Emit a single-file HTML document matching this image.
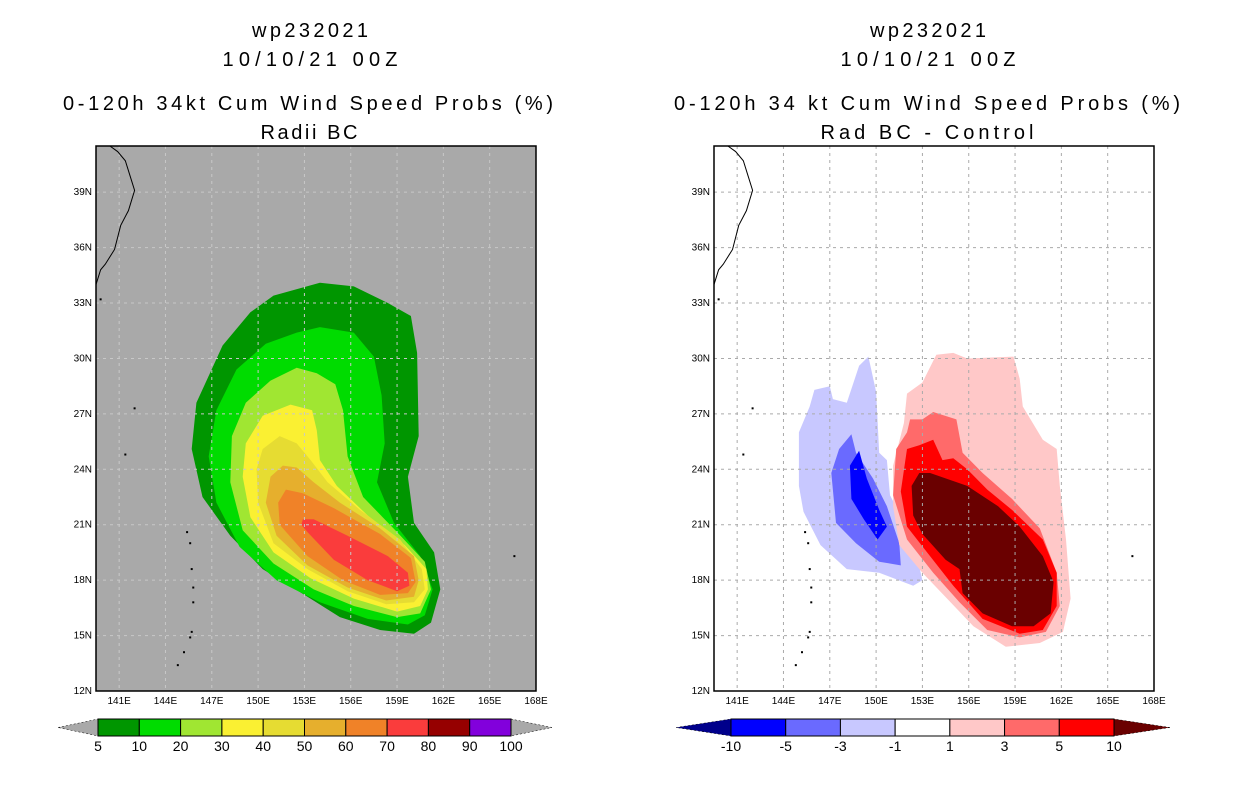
<!DOCTYPE html>
<html><head><meta charset="utf-8"><style>
body{margin:0;background:#fff;width:1236px;height:800px;overflow:hidden}
svg{display:block}
text{font-family:"Liberation Sans",sans-serif}
</style></head><body>
<svg id="s" width="1236" height="800" xmlns="http://www.w3.org/2000/svg">
<g font-size="20" text-anchor="middle" fill="#000" lengthAdjust="spacing">
<text x="310" y="37" textLength="116">wp232021</text><text x="310" y="66" textLength="175">10/10/21 00Z</text>
<text x="308" y="110" textLength="490">0-120h 34kt Cum Wind Speed Probs (%)</text><text x="309" y="139" textLength="97">Radii BC</text></g>
<g font-size="20" text-anchor="middle" fill="#000">
<text x="928" y="37" textLength="116">wp232021</text><text x="928" y="66" textLength="175">10/10/21 00Z</text>
<text x="927" y="110" textLength="506">0-120h 34 kt Cum Wind Speed Probs (%)</text><text x="927" y="139" textLength="213">Rad BC - Control</text></g>
</svg>
<script>
const NS="http://www.w3.org/2000/svg";
const svg=document.getElementById('s');
const lonTicks=[141,144,147,150,153,156,159,162,165,168];
const latTicks=[12,15,18,21,24,27,30,33,36,39];
const leftLevels=["5","10","20","30","40","50","60","70","80","90","100"];
const leftColors=["#009600","#00dc00","#a0e632","#faf032","#e6dc32","#e6af2d","#f08228","#fa3c3c","#960000","#8200dc"];
const rightLevels=["-10","-5","-3","-1","1","3","5","10"];
const rightColors=["#0000ff","#6a6aff","#c8c8ff","#ffffff","#ffc8c8","#ff6a6a","#ff0000"];
const probContours=[
 {c:"#009600",p:[[154.0,34.1],[156.2,33.9],[158.4,33.0],[159.9,32.3],[160.3,30.3],[160.4,25.8],[159.7,23.6],[160.1,21.1],[161.4,19.5],[161.8,17.5],[161.2,15.7],[160.1,15.1],[157.9,15.3],[155.3,16.0],[153.2,17.1],[150.3,18.6],[148.2,20.4],[146.4,22.5],[145.7,25.1],[146.0,27.6],[147.7,30.7],[149.5,32.5],[151.0,33.4]]},
 {c:"#00dc00",p:[[154.0,31.7],[156.2,31.4],[157.5,30.1],[158.0,28.0],[158.2,25.4],[157.7,23.3],[158.8,21.1],[160.5,19.3],[161.3,17.5],[160.8,16.1],[159.7,15.6],[157.1,15.9],[154.0,16.8],[151.2,18.0],[148.8,19.8],[147.3,22.2],[146.8,24.7],[147.3,27.2],[148.6,29.4],[150.5,30.8],[152.5,31.4]]},
 {c:"#a0e632",p:[[152.5,29.5],[153.8,29.2],[155.0,28.6],[155.5,27.2],[155.8,24.7],[156.8,22.5],[159.0,20.6],[160.8,19.0],[161.2,17.5],[160.5,16.2],[159.0,16.0],[156.2,16.6],[153.6,17.5],[151.0,18.9],[149.0,20.7],[148.2,23.3],[148.3,25.8],[149.2,27.6],[150.8,28.8]]},
 {c:"#faf032",p:[[152.1,27.5],[153.5,27.2],[153.8,26.1],[154.0,24.5],[155.1,23.1],[157.1,21.5],[159.5,19.9],[160.9,18.6],[161.0,17.5],[160.5,16.6],[159.0,16.3],[156.2,17.0],[153.4,18.1],[151.0,19.5],[149.5,21.4],[149.0,23.6],[149.2,25.4],[150.3,26.9]]},
 {c:"#e6dc32",p:[[151.4,25.8],[152.5,25.4],[153.4,24.5],[154.5,23.3],[156.6,21.8],[159.2,20.2],[160.6,18.6],[160.8,17.5],[160.1,16.8],[158.3,16.7],[155.8,17.4],[153.2,18.6],[151.0,20.0],[150.0,22.2],[149.9,24.0],[150.3,25.1]]},
 {c:"#e6af2d",p:[[151.6,24.2],[152.5,24.1],[153.6,23.3],[155.3,22.2],[157.9,20.8],[160.1,19.3],[160.4,18.0],[160.1,17.1],[158.3,16.9],[155.8,17.6],[153.2,18.8],[151.2,20.4],[150.5,22.2],[150.8,23.6]]},
 {c:"#f08228",p:[[151.8,22.9],[152.9,22.7],[154.9,21.9],[157.9,20.5],[159.9,19.2],[160.2,17.9],[159.7,17.3],[157.9,17.2],[155.5,18.0],[153.2,19.3],[151.4,21.0],[151.3,22.2]]},
 {c:"#fa3c3c",p:[[152.9,21.3],[153.6,21.3],[155.8,20.4],[158.4,19.3],[159.7,18.4],[159.8,17.7],[159.0,17.4],[157.1,18.0],[154.9,19.1],[153.2,20.6],[152.8,21.0]]}
];
const diffContours=[
 {c:"#c8c8ff",p:[[149.5,30.1],[150.0,28.2],[150.2,24.9],[150.7,24.5],[150.9,22.6],[152.4,20.2],[153.0,18.0],[152.4,17.7],[150.2,18.4],[148.1,18.6],[146.4,19.9],[145.3,21.7],[145.0,23.1],[145.0,26.0],[145.7,27.4],[146.0,28.3],[147.0,28.5],[147.2,27.8],[148.1,27.6],[148.9,29.6]]},
 {c:"#6a6aff",p:[[148.4,25.9],[148.7,24.9],[149.8,23.5],[150.7,22.0],[151.5,20.0],[151.6,18.8],[150.2,19.0],[148.7,20.0],[147.4,21.1],[147.1,23.8],[147.6,25.1]]},
 {c:"#0000ff",p:[[148.9,25.0],[149.4,23.5],[150.2,21.8],[150.7,20.9],[150.1,20.2],[149.2,21.3],[148.4,22.4],[148.3,24.2]]},
 {c:"#ffc8c8",p:[[153.9,30.2],[155.0,30.3],[155.9,30.0],[158.9,30.1],[159.3,28.9],[159.5,27.4],[160.8,25.6],[161.7,25.1],[161.9,23.1],[162.3,20.2],[162.6,17.0],[162.1,15.2],[160.6,14.6],[158.4,14.4],[156.3,15.5],[154.6,17.0],[153.0,18.4],[151.5,19.9],[151.1,22.0],[151.1,24.2],[151.8,26.5],[152.0,28.1],[153.0,28.7]]},
 {c:"#ff6a6a",p:[[152.2,26.7],[153.0,26.7],[153.7,27.1],[155.2,26.7],[155.6,24.9],[156.9,23.8],[158.8,22.4],[160.6,20.8],[161.7,18.4],[161.9,16.6],[161.0,15.2],[159.3,14.9],[157.2,15.3],[155.4,16.8],[153.7,18.4],[152.0,20.2],[151.1,22.6],[151.3,25.1],[152.0,26.0]]},
 {c:"#ff0000",p:[[152.0,25.1],[152.8,25.3],[153.7,25.6],[154.3,24.5],[155.0,24.6],[155.9,24.0],[157.2,22.9],[158.8,21.8],[160.8,20.2],[161.7,18.4],[161.7,16.6],[160.8,15.3],[159.3,15.1],[156.9,15.9],[155.0,17.7],[153.3,19.5],[152.0,20.9],[151.6,22.8]]},
 {c:"#6a0000",p:[[152.8,23.8],[153.5,23.8],[155.9,23.1],[157.9,22.0],[159.3,20.9],[160.8,19.3],[161.5,17.9],[161.3,16.2],[160.2,15.5],[158.8,15.5],[156.9,16.2],[155.6,17.3],[155.4,18.6],[154.5,19.1],[153.0,20.5],[152.4,21.5],[152.3,23.1]]}
];
const coast=[[140.4,41.5],[140.9,41.2],[141.4,40.7],[141.7,39.9],[142.0,39.1],[141.6,38.0],[141.1,37.2],[140.7,35.9],[140.1,35.1],[139.8,34.8],[139.5,34.0]];
const islands=[[139.8,33.2],[142.0,27.3],[141.4,24.8],[145.4,20.6],[145.6,20.0],[145.7,18.6],[145.8,17.6],[145.8,16.8],[145.7,15.2],[145.6,14.9],[145.2,14.1],[144.8,13.4],[166.6,19.3]];
const LON0=139.5,LON1=168,LAT0=12,LAT1=41.5,PW=440,PH=545,TOP=146;
function mk(tag,attrs,parent){const e=document.createElementNS(NS,tag);for(const k in attrs)e.setAttribute(k,attrs[k]);(parent||svg).appendChild(e);return e;}
function panel(x0,bg,contours,name){
 const xs=lon=>x0+(lon-LON0)/(LON1-LON0)*PW;
 const ys=lat=>TOP+(LAT1-lat)/(LAT1-LAT0)*PH;
 const g=mk('g',{});
 
 
 mk('rect',{x:x0,y:TOP,width:PW,height:PH,fill:bg},g);
 contours.forEach((ct,i)=>{
  const d='M'+ct.p.map(q=>xs(q[0]).toFixed(1)+','+ys(q[1]).toFixed(1)).join('L')+'Z';
  const p=mk('path',{d:d,fill:ct.c},g);
  
  
 });
 const gr=mk('g',{stroke:bg=="#ffffff"?"#aaaaaa":"#c8c8c8","stroke-width":1,"stroke-dasharray":"3,4"},g);
 
 
 lonTicks.slice(0,-1).forEach(l=>mk('line',{x1:xs(l),x2:xs(l),y1:TOP,y2:TOP+PH},gr));
 latTicks.slice(1).forEach(l=>mk('line',{x1:x0,x2:x0+PW,y1:ys(l),y2:ys(l)},gr));
 const c=mk('polyline',{points:coast.map(q=>xs(q[0])+','+ys(q[1])).join(' '),fill:'none',stroke:'#000','stroke-width':1},g);
 
 
 islands.forEach(q=>{const r=mk('rect',{x:xs(q[0])-1,y:ys(q[1])-1,width:2,height:2,fill:'#000'},g);
  
  });
 mk('rect',{x:x0,y:TOP,width:PW,height:PH,fill:'none',stroke:'#000','stroke-width':1.5},g);
 const ax=mk('g',{'font-size':10,fill:'#000'},g);
 
 
 latTicks.forEach(l=>{const t=mk('text',{x:x0-4,y:ys(l)+3,'text-anchor':'end'},ax);t.textContent=l+'N';});
 lonTicks.forEach(l=>{const t=mk('text',{x:xs(l),y:TOP+PH+13,'text-anchor':'middle'},ax);t.textContent=l+'E';});
}
panel(96,"#a9a9a9",probContours,'left');
panel(714,"#ffffff",diffContours,'right');
function colorbar(x0,x1,tri0,tri1,cols,labels,triColL,triColR,name){
 const g=mk('g',{});
 
 
 const y0=719,y1=736,ym=727.5,w=(x1-x0)/cols.length;
 mk('polygon',{points:`${tri0},${ym} ${x0},${y0} ${x0},${y1}`,fill:triColL,stroke:'#000','stroke-width':0.5,'stroke-dasharray':'2,2'},g);
 mk('polygon',{points:`${tri1},${ym} ${x1},${y0} ${x1},${y1}`,fill:triColR,stroke:'#000','stroke-width':0.5,'stroke-dasharray':'2,2'},g);
 cols.forEach((c,i)=>mk('rect',{x:x0+i*w,y:y0,width:w,height:y1-y0,fill:c,stroke:'#000','stroke-width':1},g));
 labels.forEach((l,i)=>{const t=mk('text',{x:x0+i*w,y:751,'text-anchor':'middle','font-size':14},g);t.textContent=l;});
}
colorbar(98,511,58,552,leftColors,leftLevels,"#a9a9a9","#a9a9a9",'left-colorbar');
colorbar(731,1114,676,1170,rightColors,rightLevels,"#00008b","#6a0000",'right-colorbar');
</script>
</body></html>
